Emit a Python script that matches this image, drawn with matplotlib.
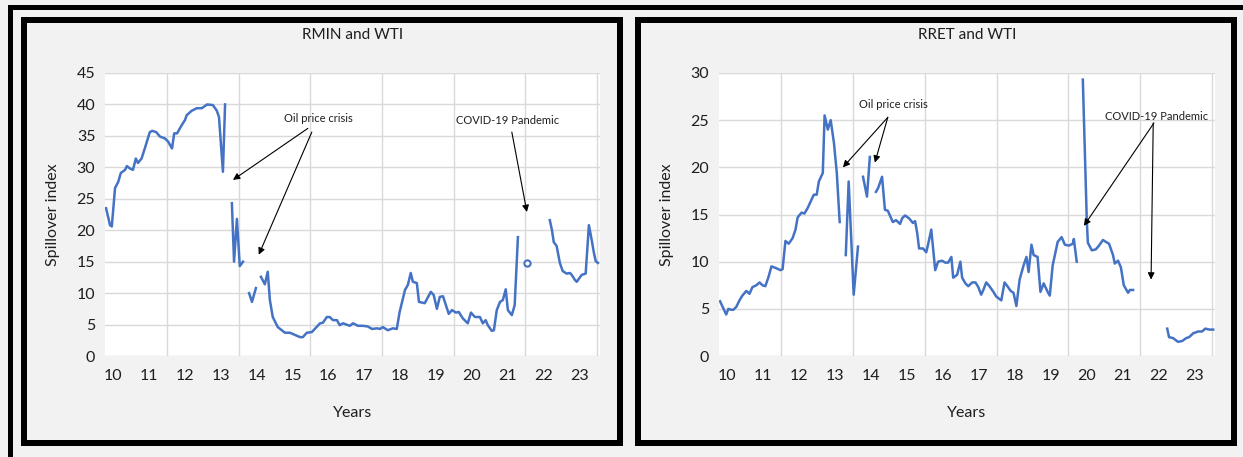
import numpy as np
import matplotlib
matplotlib.use("Agg")
import matplotlib.pyplot as plt
from matplotlib.patches import Rectangle

# ---- data (decimal year labels, spillover index); NaN marks a break in the series ----
nan = np.nan

rmin_years = [9.80, 9.91, 9.96, 10.05, 10.14, 10.21, 10.33, 10.38, 10.47, 10.55, 10.63, 10.69,
              10.79, 10.88, 11.02, 11.09, 11.20, 11.30, 11.44, 11.53, 11.64, 11.70, 11.78, 11.91,
              12.00, 12.05, 12.19, 12.33, 12.47, 12.62, 12.78, 12.89, 12.95, 13.06, 13.12, 13.20,
              13.31, 13.37, 13.45, 13.53, 13.62, 13.70,
              13.79, 13.87, 13.98, 14.05,
              14.12, 14.23, 14.31, 14.37, 14.45, 14.59, 14.79, 14.93, 15.21, 15.29, 15.40, 15.54,
              15.77, 15.85, 15.96, 16.04, 16.13, 16.24, 16.32, 16.41, 16.60, 16.69, 16.83, 16.96,
              17.10, 17.22, 17.36, 17.44, 17.52, 17.66, 17.80, 17.91, 17.99, 18.14, 18.22, 18.30,
              18.36, 18.47, 18.53, 18.69, 18.86, 18.94, 19.03, 19.11, 19.20, 19.36, 19.45, 19.56,
              19.64, 19.75, 19.89, 19.98, 20.09, 20.23, 20.31, 20.39, 20.45, 20.56, 20.62, 20.70,
              20.79, 20.87, 20.95, 21.01, 21.12, 21.20, 21.29, 21.40,
              22.18, 22.24, 22.29, 22.37, 22.46, 22.54, 22.65, 22.74, 22.79, 22.88, 22.93, 23.07,
              23.18, 23.27, 23.35, 23.41, 23.46, 23.52]
rmin_values = [23.5, 20.8, 20.6, 26.7, 27.7, 29.1, 29.6, 30.2, 29.8, 29.6, 31.4, 30.7,
               31.4, 33.0, 35.6, 35.8, 35.6, 34.9, 34.6, 34.1, 33.0, 35.4, 35.4, 36.7,
               37.5, 38.3, 39.0, 39.4, 39.4, 40.0, 39.9, 39.0, 38.0, 29.3, 40.0, nan,
               24.3, 15.0, 21.8, 14.3, 15.0, nan,
               10.0, 8.6, 10.8, nan,
               12.6, 11.4, 13.4, 8.9, 6.2, 4.6, 3.7, 3.7, 3.0, 3.0, 3.7, 3.8,
               5.2, 5.3, 6.2, 6.2, 5.7, 5.7, 4.9, 5.2, 4.8, 5.2, 4.8, 4.8,
               4.7, 4.3, 4.4, 4.3, 4.6, 4.1, 4.4, 4.3, 7.0, 10.5, 11.3, 13.2,
               11.8, 11.6, 8.6, 8.4, 10.2, 9.7, 7.5, 9.4, 9.5, 6.7, 7.3, 6.9,
               7.0, 6.0, 5.2, 6.9, 6.2, 6.2, 5.2, 5.7, 4.9, 4.0, 4.1, 7.3,
               8.6, 8.9, 10.6, 7.3, 6.5, 8.1, 18.9, nan,
               21.6, 20.0, 18.1, 17.5, 14.8, 13.5, 13.1, 13.2, 12.9, 12.1, 11.8, 12.9,
               13.1, 20.8, 18.4, 16.4, 15.1, 14.8]
# isolated observation between the two breaks
rmin_single_year = [21.54]
rmin_single_value = [14.8]

rret_years = [9.80, 9.86, 9.97, 10.03, 10.11, 10.17, 10.25, 10.34, 10.42, 10.53, 10.62, 10.70,
              10.81, 10.90, 10.98, 11.06, 11.15, 11.23, 11.37, 11.48, 11.54, 11.62, 11.71, 11.82,
              11.90, 11.96, 12.07, 12.15, 12.24, 12.35, 12.41, 12.49, 12.55, 12.66, 12.71, 12.80,
              12.88, 12.97, 13.05, 13.13, 13.20,
              13.30, 13.38, 13.52, 13.64, 13.70,
              13.78, 13.89, 13.97, 14.05,
              14.14, 14.20, 14.31, 14.39, 14.47, 14.61, 14.70, 14.81, 14.87, 14.95, 15.06, 15.17,
              15.23, 15.29, 15.34, 15.45, 15.54, 15.59, 15.68, 15.79, 15.87, 15.98, 16.07, 16.15,
              16.24, 16.29, 16.40, 16.49, 16.54, 16.63, 16.71, 16.82, 16.91, 16.99, 17.07, 17.13,
              17.21, 17.30, 17.41, 17.49, 17.63, 17.72, 17.80, 17.89, 17.97, 18.05, 18.14, 18.25,
              18.33, 18.39, 18.47, 18.53, 18.64, 18.72, 18.81, 18.92, 18.98, 19.06, 19.20, 19.31,
              19.40, 19.51, 19.62, 19.65, 19.73, 19.80,
              19.90, 20.01, 20.04, 20.15, 20.26, 20.35, 20.46, 20.54, 20.63, 20.74, 20.79, 20.88,
              20.96, 21.04, 21.16, 21.21, 21.30, 21.40,
              22.25, 22.30, 22.41, 22.55, 22.67, 22.78, 22.86, 22.97, 23.11, 23.22, 23.31, 23.42,
              23.53]
rret_values = [5.8, 5.3, 4.4, 5.0, 4.9, 4.9, 5.2, 5.9, 6.4, 6.9, 6.6, 7.3,
               7.5, 7.8, 7.5, 7.4, 8.4, 9.5, 9.3, 9.1, 9.2, 12.2, 11.9, 12.5,
               13.4, 14.7, 15.2, 15.1, 15.7, 16.6, 17.1, 17.1, 18.5, 19.4, 25.5, 24.0,
               25.0, 22.6, 19.4, 14.2, nan,
               10.7, 18.5, 6.5, 11.6, nan,
               19.0, 16.9, 21.1, nan,
               17.4, 17.8, 19.0, 15.5, 15.4, 14.2, 14.4, 14.0, 14.6, 14.9, 14.6, 14.1,
               14.3, 13.0, 11.4, 11.4, 11.0, 11.8, 13.4, 9.1, 10.0, 10.1, 9.9, 9.9,
               10.5, 8.3, 8.6, 10.0, 8.3, 7.7, 7.4, 7.8, 7.8, 7.3, 6.5, 7.0,
               7.8, 7.4, 6.8, 6.3, 5.9, 7.8, 7.4, 6.9, 6.7, 5.3, 8.1, 9.6,
               10.5, 8.9, 11.8, 10.7, 10.5, 6.8, 7.7, 6.8, 6.4, 9.6, 12.1, 12.6,
               11.8, 11.7, 11.9, 12.4, 10.0, nan,
               29.3, 14.4, 12.0, 11.2, 11.3, 11.7, 12.3, 12.1, 11.9, 10.7, 9.8, 10.1,
               9.4, 7.5, 6.7, 7.0, 7.0, nan,
               2.9, 2.0, 1.9, 1.5, 1.6, 1.9, 2.0, 2.4, 2.6, 2.6, 2.9, 2.8,
               2.8]

year_ticks = list(range(10, 24))
year_labels = [str(y) for y in year_ticks]

panels = [
    dict(title="RMIN and WTI", years=rmin_years, values=rmin_values,
         single=(rmin_single_year, rmin_single_value), ymax=45,
         notes=[("Oil price crisis", (15.72, 37.8),
                 [((15.43, 36.2), (13.34, 28.0)), ((15.54, 35.6), (14.06, 16.1))]),
                ("COVID-19 Pandemic", (21.01, 37.4),
                 [((21.12, 35.6), (21.54, 22.9))])]),
    dict(title="RRET and WTI", years=rret_years, values=rret_values,
         single=None, ymax=30,
         notes=[("Oil price crisis", (14.62, 26.7),
                 [((14.47, 25.3), (13.22, 20.0)), ((14.47, 25.3), (14.11, 20.5))]),
                ("COVID-19 Pandemic", (21.94, 25.4),
                 [((21.88, 24.7), (19.93, 13.8)), ((21.86, 24.7), (21.80, 8.1))])]),
]

# ---- figure and decorative frames ----
W, H = 1243, 457
fig = plt.figure(figsize=(W / 100, H / 100), dpi=100, facecolor="#f2f2f2")
plt.rcParams["font.family"] = ["Lato", "DejaVu Sans"]

def px_rect(x0, y0, x1, y1, lw_px, **kw):
    return Rectangle((x0 / W, 1 - y1 / H), (x1 - x0) / W, (y1 - y0) / H,
                     transform=fig.transFigure, fill=False, edgecolor="black",
                     linewidth=lw_px * 0.72, joinstyle="miter", **kw)

fig.patches.append(px_rect(9.5, 7, 1260, 475, 5))
fig.patches.append(px_rect(23.5, 20, 619.5, 442.5, 6))
fig.patches.append(px_rect(638, 20, 1234, 442.5, 6))

axes_px = [(105, 600), (719, 1215)]
top_px, bottom_px = 73, 356
line_color = "#4472C4"
text_color = "#1e1e1e"

for p, (xl, xr) in zip(panels, axes_px):
    ax = fig.add_axes([xl / W, 1 - bottom_px / H, (xr - xl) / W, (bottom_px - top_px) / H])
    ax.set_facecolor("white")
    for s in ax.spines.values():
        s.set_visible(False)

    ax.set_xlim(9.77, 23.58)
    ax.set_ylim(0, p["ymax"])

    # gridlines: horizontal at every 5, vertical every other year
    for yv in range(0, p["ymax"] + 1, 5):
        ax.axhline(yv, color="#d9d9d9", lw=1.0, zorder=0)
    for xv in np.arange(11.5, 23.6, 2):
        ax.axvline(xv, color="#d9d9d9", lw=1.0, zorder=0)

    ax.plot(p["years"], p["values"], color=line_color, lw=1.8, zorder=3,
            solid_joinstyle="round")
    if p["single"] is not None:
        ax.plot(p["single"][0], p["single"][1], linestyle="none", marker="o",
                ms=4.5, mfc="white", mec=line_color, mew=1.5, zorder=4)

    ax.set_xticks(year_ticks)
    ax.set_xticklabels(year_labels)
    ax.set_yticks(range(0, p["ymax"] + 1, 5))
    ax.tick_params(length=0, labelsize=11.5, colors=text_color)
    ax.tick_params(axis="x", pad=9)
    ax.tick_params(axis="y", pad=7)

    cx = (xl + xr) / 2 / W
    fig.text(cx, 1 - 35 / H, p["title"], ha="center", va="center",
             fontsize=11, color=text_color)
    fig.text(cx, 1 - 413 / H, "Years", ha="center", va="center",
             fontsize=11.5, color=text_color)
    fig.text((xl - 52) / W, 1 - (top_px + bottom_px) / 2 / H, "Spillover index",
             rotation=90, ha="center", va="center", fontsize=11.5, color=text_color)

    for label, pos, arrows in p["notes"]:
        ax.text(pos[0], pos[1], label, ha="center", va="center", fontsize=8,
                color=text_color, zorder=5)
        for start, tip in arrows:
            ax.annotate("", xy=tip, xytext=start,
                        arrowprops=dict(arrowstyle="-|>", color="black", lw=0.8,
                                        mutation_scale=10, shrinkA=0, shrinkB=0),
                        zorder=5)

fig.savefig("out.png", dpi=100, facecolor=fig.get_facecolor())
